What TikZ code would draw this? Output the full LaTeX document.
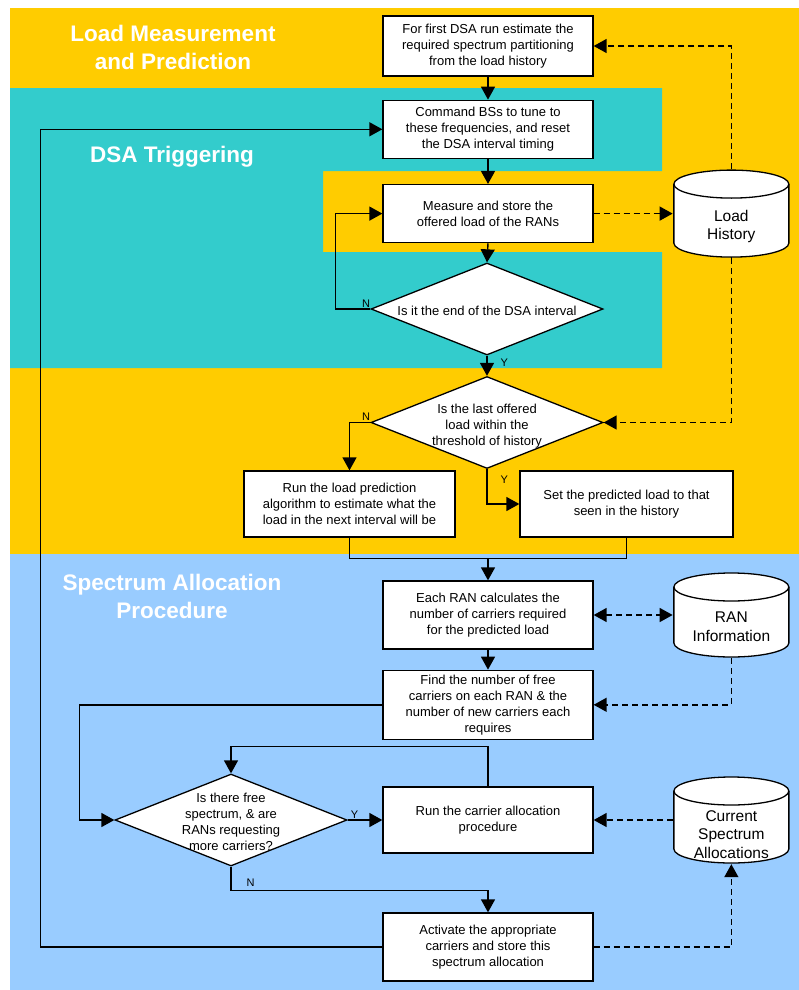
\documentclass[tikz,border=0pt]{standalone}
\usepackage{fontspec}
\setmainfont{Liberation Sans}
\usetikzlibrary{calc,positioning,arrows.meta,shapes.geometric}
\definecolor{lmpyellow}{HTML}{FFCC00}
\definecolor{dsateal}{HTML}{33CCCC}
\definecolor{sapblue}{HTML}{99CCFF}
\newcommand{\qtext}[1]{\makebox[0pt]{\raisebox{-6.5pt}[0pt][0pt]{\begin{tabular}{@{}c@{}}#1\end{tabular}}}}
\newcommand{\stext}[2]{\raisebox{-#1}[0pt][0pt]{\begin{tabular}{@{}c@{}}#2\end{tabular}}}

\begin{document}
\begin{tikzpicture}[x=1pt, y=1pt,
    box/.style={rectangle, draw=black, fill=white, line width=1.3pt, minimum width=210pt, minimum height=58pt, align=center, font=\fontsize{13}{16}\selectfont},
    decision/.style={diamond, draw=black, fill=white, line width=1.3pt, minimum width=232pt, minimum height=92pt, inner sep=0pt, font=\fontsize{13}{16}\selectfont},
    store/.style={rectangle, minimum width=117pt, minimum height=89pt, inner sep=0pt, font=\fontsize{15.5}{18.5}\selectfont,
        path picture={
            \draw[line width=1.3pt, fill=white]
                ($(path picture bounding box.north west)+(1pt,-15pt)$) -- ($(path picture bounding box.south west)+(1pt,15pt)$)
                arc[start angle=180, end angle=360, x radius=57.5pt, y radius=14pt]
                -- ($(path picture bounding box.north east)+(-1pt,-15pt)$)
                arc[start angle=0, end angle=180, x radius=57.5pt, y radius=14pt] -- cycle;
            \draw[line width=1.3pt] ($(path picture bounding box.north west)+(1pt,-15pt)$)
                arc[start angle=180, end angle=360, x radius=57.5pt, y radius=14pt];
        }},
    title/.style={text=white, align=center, font=\fontsize{22.5}{28}\selectfont\bfseries},
    yn/.style={font=\fontsize{11}{13}\selectfont, inner sep=1pt},
    link/.style={line width=1.4pt},
    flow/.style={link, -{Triangle[length=13pt, width=14pt]}},
    data/.style={flow, dash pattern=on 6pt off 4pt}]
    \useasboundingbox (0,0) rectangle (799,-990);

    \fill[lmpyellow] (10,-8) rectangle (799,-554);
    \fill[dsateal] (10,-88) -- (662,-88) -- (662,-171) -- (323,-171) -- (323,-252) -- (662,-252) -- (662,-368) -- (10,-368) -- cycle;
    \fill[sapblue] (10,-554) rectangle (799,-990);

    \node[title] (ttlload) at (173,-47) {Load Measurement\\and Prediction};
    \node[title] (ttldsa) at (172,-157) {DSA Triggering};
    \node[title] (ttlspec) at (172,-596) {Spectrum Allocation\\Procedure};

    \node[box, minimum height=60pt] (first) at (488,-46) {For first DSA run estimate the\\required spectrum partitioning\\from the load history};
    \node[box, below=23pt of first] (tune) {Command BSs to tune to\\these frequencies, and reset\\the DSA interval timing};
    \node[box, below=25pt of tune] (measure) {Measure and store the\\offered load of the RANs};
    \node[decision] (endint) at (487,-309) {\qtext{Is it the end of the DSA interval}};
    \node[decision] (thresh) at (487,-422.5) {\qtext{Is the last offered\\load within the\\threshold of history}};
    \node[box, minimum width=211pt, minimum height=66pt] (predict) at (349.5,-504) {Run the load prediction\\algorithm to estimate what the\\load in the next interval will be};
    \node[box, minimum width=213pt, minimum height=66pt] (setload) at (626.5,-504) {Set the predicted load to that\\seen in the history};
    \node[box, minimum height=68pt] (calc) at (488,-615) {Each RAN calculates the\\number of carriers required\\for the predicted load};
    \node[box, minimum height=69pt, below=20pt of calc] (findfree) {Find the number of free\\carriers on each RAN \& the\\number of new carriers each\\requires};
    \node[box, minimum height=66pt] (alloc) at (488,-820) {Run the carrier allocation\\procedure};
    \node[decision] (freespec) at (231,-820) {\qtext{Is there free\\spectrum, \& are\\RANs requesting\\more carriers?}};
    \node[box, minimum height=68pt] (activate) at (488,-947) {Activate the appropriate\\carriers and store this\\spectrum allocation};

    \node[store, right=79pt of measure] (lhist) {\stext{17pt}{Load\\History}};
    \node[store, minimum height=86pt, right=79pt of calc] (raninfo) {\stext{17pt}{RAN\\Information}};
    \node[store, minimum height=88pt, right=79pt of alloc] (curalloc) {\stext{19.5pt}{Current\\Spectrum\\Allocations}};

    \coordinate (merge) at ($(calc.north)+(0,22pt)$);

    \draw[flow] (first.south) -- (tune.north);
    \draw[flow] (tune.south) -- (measure.north);
    \draw[flow] (measure.south) -- (endint.north);
    \draw[flow] (endint.west) -- node[yn, pos=0.12, above]{N} ++(-35pt,0) |- (measure.west);
    \draw[flow] (endint.south) -- node[yn, pos=0.35, right, xshift=12pt]{Y} (thresh.north);
    \draw[flow] (thresh.west) -| node[yn, pos=0.1, above]{N} (predict.north);
    \draw[flow] (thresh.south) |- node[yn, pos=0.15, right, xshift=12pt]{Y} (setload.west);
    \draw[link] (predict.south) |- (merge) -| (setload.south);
    \draw[flow] (merge) -- (calc.north);
    \draw[flow] (calc.south) -- (findfree.north);
    \draw[flow] (findfree.west) -- ++(-303pt,0) |- (freespec.west);
    \draw[flow] (alloc.north) -- ++(0,40pt) -| (freespec.north);
    \draw[flow] (freespec.east) -- node[yn, pos=0.2, above]{Y} (alloc.west);
    \draw[flow] (freespec.south) -- node[yn, pos=0.66, right, xshift=14pt]{N} ++(0,-24pt) -| (activate.north);
    \draw[flow] (activate.west) -- ++(-342pt,0) |- (tune.west);

    \draw[data] (measure.east) -- (measure.east -| lhist.west);
    \draw[data] (lhist.north) |- (first.east);
    \draw[data] (lhist.south) |- (thresh.east);
    \draw[data, {Triangle[length=13pt, width=14pt]}-{Triangle[length=13pt, width=14pt]}] (calc.east) -- (raninfo.west);
    \draw[data] (raninfo.south) |- (findfree.east);
    \draw[data] (curalloc.west) -- (alloc.east);
    \draw[data] (activate.east) -| (curalloc.south);
\end{tikzpicture}
\end{document}
